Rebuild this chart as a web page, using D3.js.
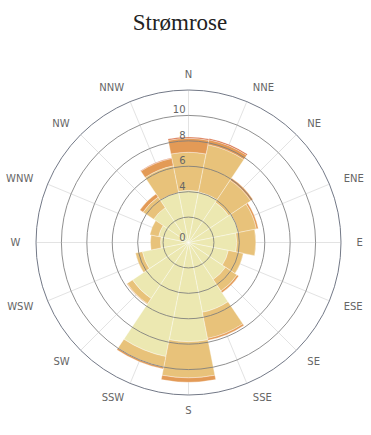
<!DOCTYPE html>
<html>
<head>
<meta charset="utf-8">
<script src="https://cdn.jsdelivr.net/npm/d3@7"></script>
<style>
  body { margin: 0; background: #fff; }
  svg { display: block; }
</style>
</head>
<body>
<div id="chart"></div>
<script>
// directions round the rose, clockwise from north
const directions = ["N", "NNE", "NE", "ENE", "E", "ESE", "SE", "SSE",
                    "S", "SSW", "SW", "WSW", "W", "WNW", "NW", "NNW"];
const seriesNames = ["s1", "s2", "s3", "s4"];
const seriesColors = ["#ece8b1", "#e8c27a", "#e39a56", "#d5663b"];

// stacked values per direction, one array per series
const s1 = [4.1, 4.05, 3.8, 4.0, 3.8, 3.2, 3.5, 5.6, 7.8, 9.15, 5.3, 3.7, 2.2, 2.4, 3.3, 4.0];
const s2 = [3.0, 3.8, 2.1, 1.45, 1.5, 1.2, 1.1, 2.1, 2.85, 0.85, 0.5, 0.55, 0.8, 0.7, 1.0, 2.15];
const s3 = [1.1, 0.4, 0.2, 0.15, 0, 0, 0.15, 0.15, 0.35, 0.15, 0.05, 0, 0, 0, 0.3, 0.6];
const s4 = [0.1, 0.1, 0, 0, 0, 0, 0, 0, 0, 0, 0, 0, 0, 0, 0, 0.05];

const radialTicks = [2, 4, 6, 8, 10];
const radialLabels = [0, 4, 6, 8, 10];
const radialMax = 12;

const width = 371, height = 435;
const cx = 188.5, cy = 242.5, outerR = 152.5;

const rows = directions.map((d, i) => ({dir: d, s1: s1[i], s2: s2[i], s3: s3[i], s4: s4[i]}));

const svg = d3.select("#chart").append("svg")
    .attr("width", width)
    .attr("height", height);

svg.append("text")
    .attr("x", 180)
    .attr("y", 30)
    .attr("text-anchor", "middle")
    .style("font-family", "'Liberation Serif', 'Times New Roman', serif")
    .style("font-size", "23px")
    .style("fill", "#222")
    .text("Strømrose");

const g = svg.append("g")
    .attr("transform", "translate(" + cx + "," + cy + ")");

const x = d3.scaleBand()
    .domain(directions)
    .range([0, 2 * Math.PI])
    .padding(0);
const half = x.bandwidth() / 2;

const r = d3.scaleLinear()
    .domain([0, radialMax])
    .range([0, outerR]);

// spokes
g.append("g").selectAll("line")
  .data(directions)
  .enter().append("line")
    .attr("x1", 0).attr("y1", 0)
    .attr("x2", d => outerR * Math.sin(x(d)))
    .attr("y2", d => -outerR * Math.cos(x(d)))
    .attr("stroke", "#e3e3e3")
    .attr("stroke-width", 1);

// stacked sectors
const stacked = d3.stack().keys(seriesNames)(rows);
const arc = d3.arc();

g.append("g").selectAll("g")
  .data(stacked)
  .enter().append("g")
    .attr("fill", (d, i) => seriesColors[i])
  .selectAll("path")
  .data(d => d.filter(p => p[1] - p[0] > 0))
  .enter().append("path")
    .attr("d", d => arc({
        innerRadius: r(d[0]),
        outerRadius: r(d[1]),
        startAngle: x(d.data.dir) - half,
        endAngle: x(d.data.dir) + half
    }))
    .attr("stroke", "#fff")
    .attr("stroke-opacity", 0.6)
    .attr("stroke-width", 0.6);

// circles on top
g.append("g").selectAll("circle")
  .data(radialTicks)
  .enter().append("circle")
    .attr("r", d => r(d))
    .attr("fill", "none")
    .attr("stroke", "#7d7d7d")
    .attr("stroke-opacity", 0.85)
    .attr("stroke-width", 1);

g.append("circle")
    .attr("r", outerR)
    .attr("fill", "none")
    .attr("stroke", "#737987")
    .attr("stroke-width", 1);

// radial labels
g.append("g").selectAll("text")
  .data(radialLabels)
  .enter().append("text")
    .attr("x", -3)
    .attr("y", d => -r(d) - 2)
    .attr("text-anchor", "end")
    .style("font-family", "'DejaVu Sans', Verdana, sans-serif")
    .style("font-size", "10px")
    .style("fill", "#666")
    .text(d => d);

// direction labels
const labelR = outerR + 15.5;
g.append("g").selectAll("text")
  .data(directions)
  .enter().append("text")
    .attr("x", d => labelR * Math.sin(x(d)))
    .attr("y", d => -labelR * Math.cos(x(d)))
    .attr("dy", "0.35em")
    .attr("text-anchor", d => {
        const s = Math.sin(x(d));
        return Math.abs(s) < 0.01 ? "middle" : (s > 0 ? "start" : "end");
    })
    .style("font-family", "'DejaVu Sans', Verdana, sans-serif")
    .style("font-size", "10px")
    .style("fill", "#666")
    .text(d => d);
</script>
</body>
</html>
